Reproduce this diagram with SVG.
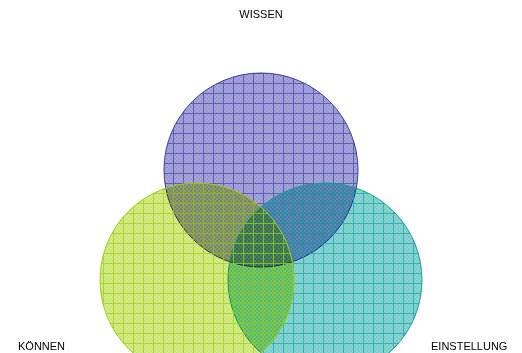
<svg xmlns="http://www.w3.org/2000/svg" width="522" height="353" viewBox="0 0 522 353">
<style>
.lbl{font-family:"Liberation Sans",Arial,sans-serif;font-size:11px;fill:#000}
.f{mix-blend-mode:multiply}
.g{opacity:0.75}
</style>
<defs>
<pattern id="cb" width="4" height="4" patternUnits="userSpaceOnUse">
<rect width="4" height="4" fill="#a6a6dc"/>
<path d="M0 0h2v2h-2zM2 2h2v2h-2z" fill="#9898d4"/>
</pattern>
<pattern id="cg" width="4" height="4" patternUnits="userSpaceOnUse">
<rect width="4" height="4" fill="#d6ee88"/>
<path d="M0 0h2v2h-2zM2 2h2v2h-2z" fill="#c8e674"/>
</pattern>
<pattern id="ct" width="4" height="4" patternUnits="userSpaceOnUse">
<rect width="4" height="4" fill="#8ad6d4"/>
<path d="M0 0h2v2h-2zM2 2h2v2h-2z" fill="#78ccca"/>
</pattern>
<pattern id="lb" width="10" height="10" patternUnits="userSpaceOnUse" x="3" y="3">
<path d="M0 0.5H10M0.5 0V10" stroke="#4a4aa8" stroke-width="1" fill="none"/>
</pattern>
<pattern id="lg" width="10" height="10" patternUnits="userSpaceOnUse" x="3" y="3">
<path d="M0 0.5H10M0.5 0V10" stroke="#9ed020" stroke-width="1" fill="none"/>
</pattern>
<pattern id="lt" width="10" height="10" patternUnits="userSpaceOnUse" x="3" y="3">
<path d="M0 0.5H10M0.5 0V10" stroke="#1ea8a4" stroke-width="1" fill="none"/>
</pattern>
</defs>
<g id="wissen">
<circle class="f" cx="261" cy="170" r="97" fill="url(#cb)"/>
<circle class="g" cx="261" cy="170" r="97" fill="url(#lb)"/>
<circle cx="261" cy="170" r="97" fill="none" stroke="#3c3c96"/>
</g>
<g id="einstellung">
<circle class="f" cx="325" cy="280" r="97" fill="url(#ct)"/>
<circle class="g" cx="325" cy="280" r="97" fill="url(#lt)"/>
<circle cx="325" cy="280" r="97" fill="none" stroke="#1c9e98"/>
</g>
<g id="koennen">
<circle class="f" cx="197" cy="280" r="97" fill="url(#cg)"/>
<circle class="g" cx="197" cy="280" r="97" fill="url(#lg)"/>
<circle cx="197" cy="280" r="97" fill="none" stroke="#9ccc20"/>
</g>
<g id="labels">
<text class="lbl" x="261" y="18" text-anchor="middle">WISSEN</text>
<text class="lbl" x="18" y="350">KÖNNEN</text>
<text class="lbl" x="431" y="350">EINSTELLUNG</text>
</g>
</svg>
